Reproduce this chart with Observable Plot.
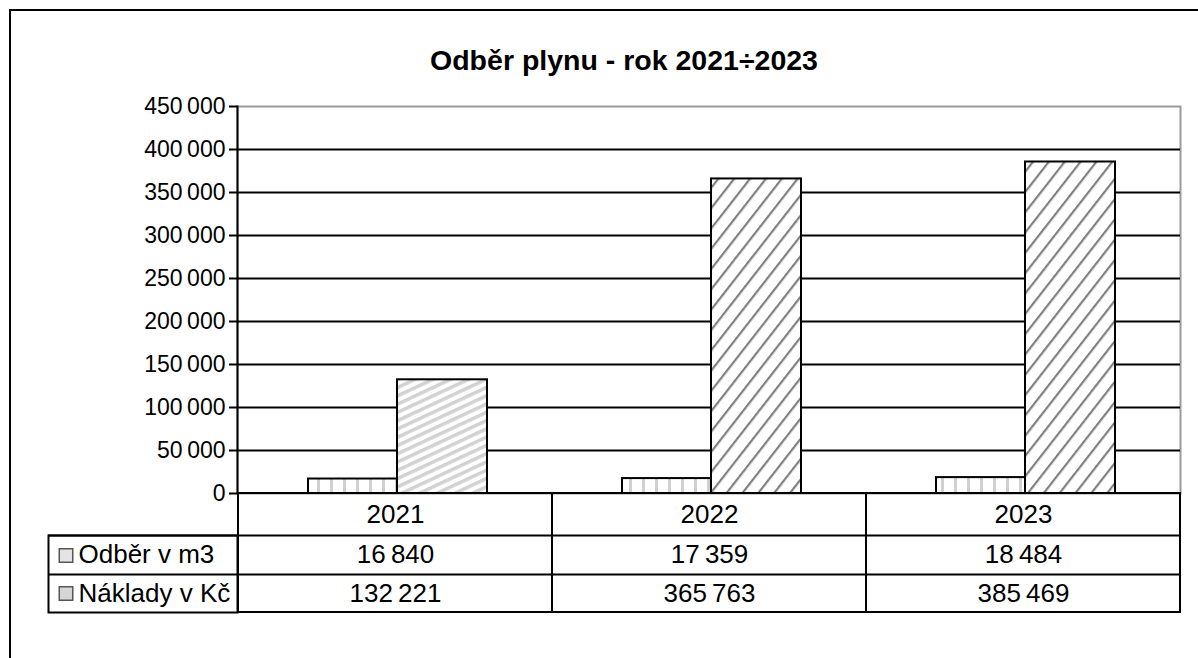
<!DOCTYPE html>
<html><head><meta charset="utf-8">
<script src="https://cdn.jsdelivr.net/npm/d3@7"></script>
<script src="https://cdn.jsdelivr.net/npm/@observablehq/plot@0.6"></script>
<style>
html,body{margin:0;padding:0;background:#fff;overflow:hidden}
#wrap{position:relative;width:1198px;height:658px;overflow:hidden;font-family:"Liberation Sans",Arial,sans-serif;background:#fff}
#frame{position:absolute;left:9px;top:9px;width:1300px;height:800px;border:2px solid #000}
#title{position:absolute;left:0;width:1248px;top:43px;text-align:center;font-weight:bold;font-size:28.5px;line-height:34px;color:#000}
#chart{position:absolute;left:0;top:0}
</style></head><body>
<div id="wrap"><div id="frame"></div><div id="title"></div><div id="chart"></div></div>
<script>
const title = "Odběr plynu - rok 2021÷2023";
const years = ["2021", "2022", "2023"];
const seriesNames = ["Odběr v m3", "Náklady v Kč"];
const odber = [16840, 17359, 18484];
const naklady = [132221, 365763, 385469];
const yTicks = [0, 50000, 100000, 150000, 200000, 250000, 300000, 350000, 400000, 450000];

const rows = years.map((year, i) => ({year, odber: odber[i], naklady: naklady[i]}));
const fmt = v => d3.format(",")(v).replace(/,/g, "\u2009");

document.getElementById("title").textContent = title;

const tickFont = 23;
const tableFont = 26;
const chart = Plot.plot({
  width: 1198,
  height: 658,
  marginLeft: 237,
  marginRight: 18,
  marginTop: 106,
  marginBottom: 165,
  style: {fontFamily: '"Liberation Sans", Arial, sans-serif', fontSize: tickFont + "px", background: "transparent", color: "#000"},
  x: {type: "band", domain: years, padding: 0, axis: null},
  y: {type: "linear", domain: [0, 450000], axis: null},
  marks: [
    Plot.frame({stroke: "#9a9a9a", strokeWidth: 2}),
    Plot.gridY(yTicks.slice(1, -1), {stroke: "#000", strokeOpacity: 1, strokeWidth: 2}),
    Plot.axisY(yTicks, {tickFormat: fmt, tickSize: 8, tickPadding: 4, fontSize: tickFont, stroke: "#000", strokeWidth: 2, fill: "#000", label: null}),
    Plot.frame({anchor: "left", stroke: "#000", strokeWidth: 2}),
    Plot.barY(rows, {x: "year", y: "odber", insetLeft: 70, insetRight: 155, fill: "url(#pV)", stroke: "#000", strokeWidth: 2}),
    Plot.barY(rows, {filter: d => d.year === years[0], x: "year", y: "naklady", insetLeft: 159, insetRight: 65, fill: "url(#pS)", stroke: "#000", strokeWidth: 2}),
    Plot.barY(rows, {filter: d => d.year !== years[0], x: "year", y: "naklady", insetLeft: 159, insetRight: 65, fill: "url(#pD)", stroke: "#000", strokeWidth: 2}),
    // data table
    Plot.cell(rows, {x: "year", insetTop: 387, insetBottom: -119, fill: "none", stroke: "#000", strokeWidth: 2}),
    Plot.ruleY([0], {dy: 42, insetLeft: -189, stroke: "#000", strokeWidth: 2}),
    Plot.ruleY([0], {dy: 81, insetLeft: -189, stroke: "#000", strokeWidth: 2}),
    Plot.frame({insetLeft: -189, insetRight: 943, insetTop: 429, insetBottom: -119, fill: "none", stroke: "#000", strokeWidth: 2}),
    Plot.text(rows, {x: "year", text: "year", frameAnchor: "bottom", lineAnchor: "middle", dy: 21.5, fontSize: tableFont, fill: "#000"}),
    Plot.text(rows, {x: "year", text: d => fmt(d.odber), frameAnchor: "bottom", lineAnchor: "middle", dy: 61.5, fontSize: tableFont, fill: "#000"}),
    Plot.text(rows, {x: "year", text: d => fmt(d.naklady), frameAnchor: "bottom", lineAnchor: "middle", dy: 100, fontSize: tableFont, fill: "#000"}),
    Plot.text([seriesNames[0]], {text: d => d, frameAnchor: "bottom-left", lineAnchor: "middle", dx: -159, dy: 61.5, textAnchor: "start", fontSize: tableFont, fill: "#000"}),
    Plot.text([seriesNames[1]], {text: d => d, frameAnchor: "bottom-left", lineAnchor: "middle", dx: -159, dy: 100, textAnchor: "start", fontSize: tableFont, fill: "#000"}),
    Plot.dot([seriesNames[0]], {frameAnchor: "bottom-left", dx: -171.5, dy: 62, symbol: "square", r: 7.6, fill: "#e4e4e4", stroke: "#555", strokeWidth: 1.5}),
    Plot.dot([seriesNames[1]], {frameAnchor: "bottom-left", dx: -171.5, dy: 100, symbol: "square", r: 7.6, fill: "#d6d6d6", stroke: "#555", strokeWidth: 1.5})
  ]
});

d3.select(chart).insert("defs", ":first-child").html(`
  <pattern id="pV" patternUnits="userSpaceOnUse" width="13" height="10">
    <rect width="13" height="10" fill="#fff"/><rect x="5" width="3" height="10" fill="#d0d0d0"/>
  </pattern>
  <pattern id="pS" patternUnits="userSpaceOnUse" width="7.5" height="10" patternTransform="rotate(65)">
    <rect width="7.5" height="10" fill="#fff"/><rect x="0" width="3.5" height="10" fill="#d2d2d2"/>
  </pattern>
  <pattern id="pD" patternUnits="userSpaceOnUse" width="12.5" height="10" patternTransform="rotate(38)">
    <rect width="12.5" height="10" fill="#fff"/><rect x="0" width="2.2" height="10" fill="#808080"/>
  </pattern>`);

document.getElementById("chart").appendChild(chart);
</script>
</body></html>
